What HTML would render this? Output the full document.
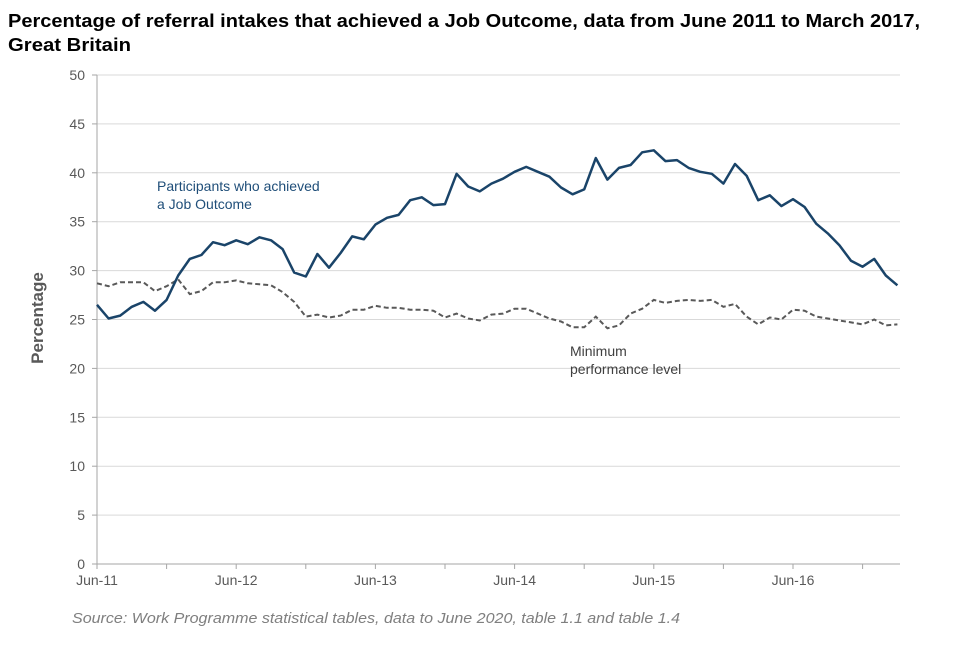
<!DOCTYPE html>
<html><head><meta charset="utf-8"><style>
body{margin:0;background:#fff;width:960px;height:640px;overflow:hidden;font-family:"Liberation Sans",sans-serif}
</style></head><body>
<svg id="chart" width="960" height="640" xmlns="http://www.w3.org/2000/svg">
<text x="8" y="27" font-size="18" font-weight="bold" fill="#000" textLength="912" lengthAdjust="spacingAndGlyphs">Percentage of referral intakes that achieved a Job Outcome, data from June 2011 to March 2017,</text>
<text x="8" y="51" font-size="18" font-weight="bold" fill="#000" textLength="123" lengthAdjust="spacingAndGlyphs">Great Britain</text>
<g id="grid"></g><g id="axes"></g><g id="series"></g>
<text x="157" y="191" font-size="14" fill="#1f4e79">Participants who achieved</text>
<text x="157" y="209" font-size="14" fill="#1f4e79">a Job Outcome</text>
<text x="570" y="356" font-size="14" fill="#404040">Minimum</text>
<text x="570" y="374" font-size="14" fill="#404040">performance level</text>
<text transform="translate(43,318) rotate(-90)" text-anchor="middle" font-size="17" font-weight="bold" fill="#595959">Percentage</text>
<text x="72" y="623" font-size="15" font-style="italic" fill="#7f7f7f" textLength="608" lengthAdjust="spacingAndGlyphs">Source: Work Programme statistical tables, data to June 2020, table 1.1 and table 1.4</text>
</svg>
<script>
const yTicks=[0,5,10,15,20,25,30,35,40,45,50];
const xTickLabels=["Jun-11","Jun-12","Jun-13","Jun-14","Jun-15","Jun-16"];
const outcome=[26.5,25.1,25.4,26.3,26.8,25.9,27.0,
29.5,31.2,31.6,32.9,32.6,33.1,32.7,33.4,33.1,32.2,29.8,29.4,
31.7,30.3,31.8,33.5,33.2,34.7,35.4,35.7,37.2,37.5,36.7,36.8,
39.9,38.6,38.1,38.9,39.4,40.1,40.6,40.1,39.6,38.5,37.8,38.3,
41.5,39.3,40.5,40.8,42.1,42.3,41.2,41.3,40.5,40.1,39.9,38.9,
40.9,39.7,37.2,37.7,36.6,37.3,36.5,34.8,33.8,32.6,31.0,30.4,
31.2,29.5,28.5];
const minimum=[28.7,28.4,28.8,28.8,28.8,27.9,28.4,
29.1,27.6,27.9,28.8,28.8,29.0,28.7,28.6,28.5,27.8,26.8,25.3,
25.5,25.2,25.4,26.0,26.0,26.4,26.2,26.2,26.0,26.0,25.9,25.2,
25.6,25.1,24.9,25.5,25.6,26.1,26.1,25.6,25.1,24.8,24.2,24.2,
25.3,24.1,24.4,25.6,26.1,27.0,26.7,26.9,27.0,26.9,27.0,26.3,
26.6,25.3,24.5,25.2,25.0,26.0,25.9,25.3,25.1,24.9,24.7,24.5,
25.0,24.4,24.5];
const NS="http://www.w3.org/2000/svg";
const X0=97,STEP=11.6,XEND=900,Y0=564,YTOP=75;
function xs(i){return X0+i*STEP;}
function ys(v){return Y0-(v/50)*(Y0-YTOP);}
function mk(tag,attrs,parent){const e=document.createElementNS(NS,tag);for(const k in attrs)e.setAttribute(k,attrs[k]);parent.appendChild(e);return e;}
const grid=document.getElementById('grid'),axes=document.getElementById('axes'),ser=document.getElementById('series');
yTicks.forEach(v=>{
  if(v>0){const l=mk('line',{x1:X0,x2:XEND,y1:ys(v),y2:ys(v),stroke:'#d9d9d9','stroke-width':1},grid);
  
  }
  const t=mk('text',{x:X0-12,y:ys(v)+5,'text-anchor':'end','font-size':14,fill:'#595959'},axes);
  t.textContent=v;
  
  
  mk('line',{x1:X0-5,x2:X0,y1:ys(v),y2:ys(v),stroke:'#a6a6a6'},axes);
});
const ya=mk('line',{x1:X0,x2:X0,y1:YTOP,y2:Y0,stroke:'#a6a6a6'},axes);


const xa=mk('line',{x1:X0,x2:XEND,y1:Y0,y2:Y0,stroke:'#a6a6a6'},axes);


for(let i=0;i<outcome.length;i+=6){mk('line',{x1:xs(i),x2:xs(i),y1:Y0,y2:Y0+5,stroke:'#a6a6a6'},axes);}
xTickLabels.forEach((lab,k)=>{
  const t=mk('text',{x:xs(k*12),y:Y0+21,'text-anchor':'middle','font-size':14,fill:'#595959'},axes);
  t.textContent=lab;
  
  
});
function pts(arr){return arr.map((v,i)=>xs(i).toFixed(1)+','+ys(v).toFixed(1)).join(' ');}
const pm=mk('polyline',{points:pts(minimum),fill:'none',stroke:'#595959','stroke-width':2,'stroke-dasharray':'5,3'},ser);


const po=mk('polyline',{points:pts(outcome),fill:'none',stroke:'#1a4469','stroke-width':2.5,'stroke-linejoin':'round'},ser);


</script>
</body></html>
